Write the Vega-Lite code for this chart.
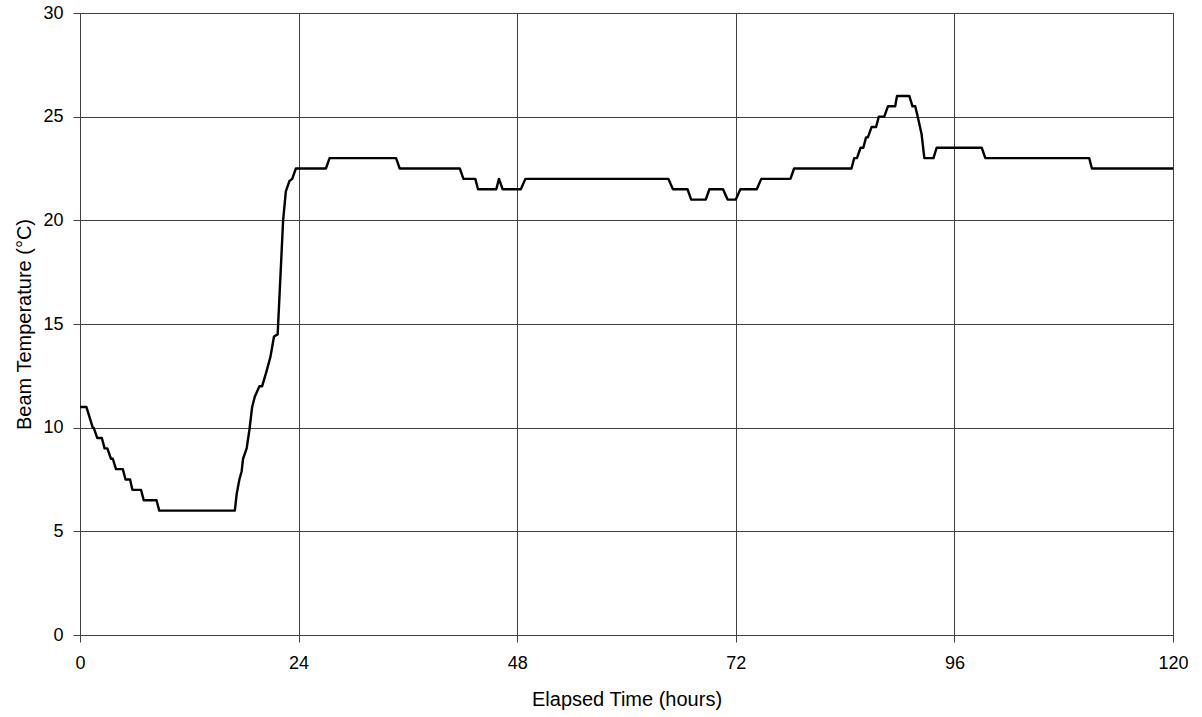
{
  "$schema": "https://vega.github.io/schema/vega-lite/v6.json",
  "width": 1093,
  "height": 622,
  "autosize": {"type": "none"},
  "padding": {"left": 80, "top": 13, "right": 29, "bottom": 82},
  "background": "white",
  "config": {
    "font": "Liberation Sans",
    "view": {"stroke": "#808080", "strokeWidth": 1},
    "axis": {
      "labelFont": "Liberation Sans",
      "titleFont": "Liberation Sans",
      "labelFontSize": 18,
      "titleFontSize": 20,
      "titleFontWeight": "normal",
      "labelColor": "#000000",
      "titleColor": "#000000",
      "labelFlush": false,
      "labelOverlap": false,
      "gridColor": "#404040",
      "gridOpacity": 1,
      "gridWidth": 1,
      "domainColor": "#404040",
      "tickColor": "#404040",
      "tickSize": 7
    }
  },
  "data": {
    "values": [
      {"t": 0, "v": 11}, {"t": 0.7, "v": 11}, {"t": 1.4, "v": 10}, {"t": 1.5, "v": 10},
      {"t": 1.9, "v": 9.5}, {"t": 2.4, "v": 9.5}, {"t": 2.7, "v": 9.0}, {"t": 3.0, "v": 9.0},
      {"t": 3.4, "v": 8.5}, {"t": 3.6, "v": 8.5}, {"t": 3.95, "v": 8.0}, {"t": 4.7, "v": 8.0},
      {"t": 5.0, "v": 7.5}, {"t": 5.5, "v": 7.5}, {"t": 5.75, "v": 7.0}, {"t": 6.7, "v": 7.0},
      {"t": 7.0, "v": 6.5}, {"t": 8.4, "v": 6.5}, {"t": 8.7, "v": 6.0}, {"t": 17.0, "v": 6.0},
      {"t": 17.2, "v": 6.8}, {"t": 17.5, "v": 7.5}, {"t": 17.75, "v": 7.9}, {"t": 17.9, "v": 8.5},
      {"t": 18.3, "v": 9.0}, {"t": 18.6, "v": 9.9}, {"t": 18.9, "v": 11.0}, {"t": 19.2, "v": 11.5},
      {"t": 19.7, "v": 12.0}, {"t": 20.0, "v": 12.0}, {"t": 20.5, "v": 12.75}, {"t": 20.9, "v": 13.4},
      {"t": 21.3, "v": 14.4}, {"t": 21.7, "v": 14.5}, {"t": 22.0, "v": 17.25}, {"t": 22.3, "v": 20.0},
      {"t": 22.6, "v": 21.4}, {"t": 23.0, "v": 21.9}, {"t": 23.3, "v": 22.0}, {"t": 23.7, "v": 22.5},
      {"t": 27.0, "v": 22.5}, {"t": 27.4, "v": 23.0}, {"t": 34.7, "v": 23.0}, {"t": 35.1, "v": 22.5},
      {"t": 41.7, "v": 22.5}, {"t": 42.1, "v": 22.0}, {"t": 43.4, "v": 22.0}, {"t": 43.7, "v": 21.5},
      {"t": 45.7, "v": 21.5}, {"t": 46.0, "v": 22.0}, {"t": 46.4, "v": 21.5}, {"t": 48.4, "v": 21.5},
      {"t": 48.9, "v": 22.0}, {"t": 64.6, "v": 22.0}, {"t": 65.1, "v": 21.5}, {"t": 66.7, "v": 21.5},
      {"t": 67.1, "v": 21.0}, {"t": 68.7, "v": 21.0}, {"t": 69.1, "v": 21.5}, {"t": 70.6, "v": 21.5},
      {"t": 71.1, "v": 21.0}, {"t": 72.0, "v": 21.0}, {"t": 72.5, "v": 21.5}, {"t": 74.3, "v": 21.5},
      {"t": 74.8, "v": 22.0}, {"t": 78.0, "v": 22.0}, {"t": 78.4, "v": 22.5}, {"t": 84.7, "v": 22.5},
      {"t": 85.0, "v": 23.0}, {"t": 85.3, "v": 23.0}, {"t": 85.7, "v": 23.5}, {"t": 86.0, "v": 23.5},
      {"t": 86.3, "v": 24.0}, {"t": 86.5, "v": 24.0}, {"t": 86.9, "v": 24.5}, {"t": 87.4, "v": 24.5},
      {"t": 87.7, "v": 25.0}, {"t": 88.3, "v": 25.0}, {"t": 88.7, "v": 25.5}, {"t": 89.5, "v": 25.5},
      {"t": 89.7, "v": 26.0}, {"t": 91.05, "v": 26.0}, {"t": 91.4, "v": 25.5}, {"t": 91.7, "v": 25.5},
      {"t": 92.0, "v": 24.95}, {"t": 92.4, "v": 24.15}, {"t": 92.7, "v": 23.0}, {"t": 93.7, "v": 23.0},
      {"t": 94.05, "v": 23.5}, {"t": 99.0, "v": 23.5}, {"t": 99.4, "v": 23.0}, {"t": 110.8, "v": 23.0},
      {"t": 111.1, "v": 22.5}, {"t": 120, "v": 22.5}
    ]
  },
  "mark": {"type": "line", "color": "#000000", "strokeWidth": 2.4, "strokeJoin": "round"},
  "encoding": {
    "x": {
      "field": "t",
      "type": "quantitative",
      "scale": {"domain": [0, 120], "nice": false, "zero": false},
      "axis": {
        "title": "Elapsed Time (hours)",
        "values": [0, 24, 48, 72, 96, 120],
        "labelPadding": 12,
        "titlePadding": 17
      }
    },
    "y": {
      "field": "v",
      "type": "quantitative",
      "scale": {"domain": [0, 30], "nice": false},
      "axis": {
        "title": "Beam Temperature (°C)",
        "values": [0, 5, 10, 15, 20, 25, 30],
        "labelPadding": 10,
        "titlePadding": 8
      }
    }
  }
}
